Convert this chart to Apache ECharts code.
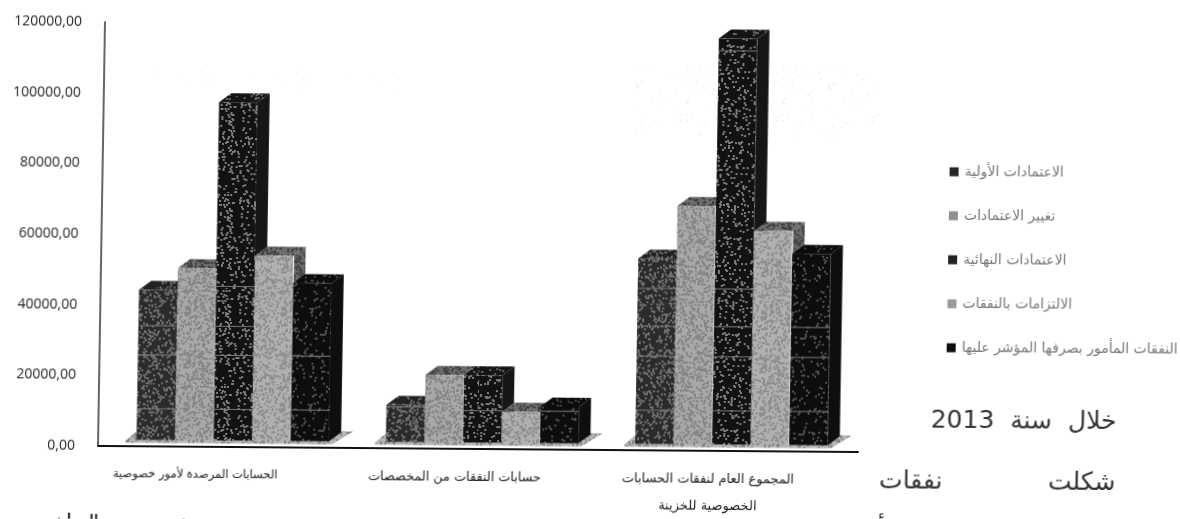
<!DOCTYPE html>
<html><head><meta charset="utf-8">
<script src="https://cdn.jsdelivr.net/npm/echarts@6/dist/echarts.min.js"></script>
<style>
html,body{margin:0;padding:0;background:#fff;overflow:hidden}
#c{width:1180px;height:519px;transform-origin:100px 446px;transform:matrix(1,0.008,-0.0165,1,-2,0)}
</style></head><body><div id="c"></div>
<script>
const categories = ['الحسابات المرصدة لأمور خصوصية','حسابات النفقات من المخصصات','المجموع العام لنفقات الحسابات\nالخصوصية للخزينة'];
const seriesNames = ['الاعتمادات الأولية','تغيير الاعتمادات','الاعتمادات النهائية','الالتزامات بالنفقات','النفقات المأمور بصرفها المؤشر عليها'];
const initialCredits = [42450, 10500, 52400];
const creditChanges = [48700, 19000, 67400];
const finalCredits = [95700, 19000, 114900];
const commitments = [52400, 8800, 60600];
const authorizedSpending = [44700, 10300, 54100];
const yTicks = [0,20000,40000,60000,80000,100000,120000];
// faint horizontal bands visible across the dark bars: one list per series, per category
const bandsInitial = [[8800,24050,32300],[9900],[9500,24800,33300,44000]];
const bandsFinal = [[8800,24050,32300,43600],[9000],[9500,24800,33300,44000,111400]];
const bandsSpending = [[8800,24050],[9000],[9500,24800,33300]];
const noBands = [[],[],[]];
const bodyLines = ['خلال\u00A0\u00A0سنة\u00A0\u00A02013','شكلت','نفقات','خصوصية" بلغت','أ'];

function noiseTex(bg, fg, density, size){
  const cv=document.createElement('canvas');cv.width=cv.height=96;
  const x=cv.getContext('2d');x.fillStyle=bg;x.fillRect(0,0,96,96);
  let s=12345+density*1000|0;
  const r=()=>{s=(s*1103515245+12345)&0x7fffffff;return s/0x7fffffff;};
  x.fillStyle=fg;
  const n=96*96*density;
  for(let i=0;i<n;i++){x.fillRect(r()*96|0,r()*96|0,size,size);}
  return {image:cv,repeat:'repeat'};
}
const looks=[
 {front:noiseTex('#2b2b2b','#6f6f6f',.09,2),top:noiseTex('#222','#666',.07,2),side:'#333',edge:null},
 {front:noiseTex('#a8a8a8','#858585',.12,2),top:noiseTex('#6b6b6b','#404040',.12,2),side:'#707070',edge:'#e4e4e4'},
 {front:noiseTex('#121212','#7d7d7d',.05,2),top:noiseTex('#151515','#666',.04,2),side:'#161616',edge:null},
 {front:noiseTex('#b0b0b0','#8e8e8e',.12,2),top:noiseTex('#6e6e6e','#404040',.12,2),side:noiseTex('#6a6a6a','#444',.12,2),edge:'#ececec'},
 {front:noiseTex('#0d0d0d','#505050',.03,2),top:noiseTex('#0c0c0c','#444',.03,2),side:'#0e0e0e',edge:null}
];
const nudges=[8,4,0];
const barW=38.5, dx=12, dy=9, lift=6.5;
function barRender(k,bands){
  return function(params,api){
    const cat=api.value(0), v=api.value(1);
    const b=api.coord([cat,0]), t=api.coord([cat,v]);
    const l=b[0]+nudges[cat]+(k-2.5)*barW, r=l+barW, by=b[1]-lift, ty=t[1]-lift;
    const L=looks[k];
    const ch=[
     {type:'polygon',shape:{points:[[r,ty],[r+dx,ty-dy],[r+dx,by-dy],[r,by]]},style:{fill:L.side}},
     {type:'polygon',shape:{points:[[l,ty],[l+dx,ty-dy],[r+dx,ty-dy],[r,ty]]},style:{fill:L.top}},
     {type:'rect',shape:{x:l,y:ty,width:barW,height:by-ty},style:{fill:L.front}}
    ];
    bands[cat].forEach(g=>{
      const y=api.coord([cat,g])[1]-lift;
      ch.push({type:'line',shape:{x1:l,y1:y,x2:r,y2:y},style:{stroke:'#7c7c7c',lineWidth:1}});
    });
    if(L.edge){ch.push({type:'line',shape:{x1:r,y1:ty,x2:r,y2:by},style:{stroke:L.edge,lineWidth:1.2}});}
    return {type:'group',children:ch};
  };
}
function floorRender(params,api){
  const cat=api.value(0);
  const b=api.coord([cat,0]);
  const l=b[0]+nudges[cat]-2.5*barW, r=l+5*barW, by=b[1]-lift;
  return {type:'polygon',shape:{points:[[l-11,by+1],[l+4,by-12],[r+24,by-10],[r+3,by+3],[l-11,by+3]]},style:{fill:noiseTex('#b5b5b5','#888',.12,2)}};
}
const valueLists=[initialCredits,creditChanges,finalCredits,commitments,authorizedSpending];
const bandLists=[bandsInitial,noBands,bandsFinal,noBands,bandsSpending];
const legendColors=['#262626','#8f8f8f','#222222','#9a9a9a','#0d0d0d'];
const arabic='"DejaVu Sans"';
const series=[{type:'custom',name:'floor',silent:true,clip:false,encode:{x:0,y:1},data:categories.map((c,i)=>[i,0]),renderItem:floorRender,z:1}]
 .concat(seriesNames.map((n,k)=>({type:'custom',name:n,clip:false,encode:{x:0,y:1},z:2+k,
   itemStyle:{color:legendColors[k]},
   data:valueLists[k].map((v,i)=>[i,v]),renderItem:barRender(k,bandLists[k])})));
const catStyle={lineHeight:27,color:'#222',fontFamily:arabic};
const richCat={g0:Object.assign({padding:[0,58,0,0],fontSize:11.5},catStyle),
               g1:Object.assign({padding:[0,46,0,0],fontSize:12.8},catStyle),
               g2:Object.assign({padding:[0,46,0,0],fontSize:13},catStyle)};
const chart=echarts.init(document.getElementById('c'),null,{renderer:'canvas'});
chart.setOption({
 animation:false,backgroundColor:'#fff',
 grid:{left:100,top:22,width:760,height:424,containLabel:false},
 xAxis:{type:'category',data:categories,axisTick:{show:false},
   axisLine:{lineStyle:{color:'#111',width:2}},
   axisLabel:{interval:0,margin:15,formatter:(v,i)=>v.split('\n').map(s=>'{g'+i+'|'+s+'}').join('\n'),rich:richCat}},
 yAxis:{type:'value',min:0,max:120000,interval:20000,splitLine:{show:false},axisTick:{show:false},
   axisLine:{show:true,lineStyle:{color:'#333',width:1.5}},
   axisLabel:{margin:23,fontFamily:'"Open Sans"',fontSize:14,color:'#222',formatter:v=>v.toFixed(2).replace('.',',')}},
 legend:{orient:'vertical',left:942,top:153,itemWidth:9,itemHeight:9,itemGap:30,icon:'rect',align:'left',
   data:seriesNames,textStyle:{fontFamily:arabic,fontSize:14,color:'#777',padding:[0,0,0,1]}},
 graphic:[
  {type:'rect',silent:true,shape:{x:630,y:58,width:245,height:75},style:{fill:noiseTex('#fff','#dcdcdc',.008,1)}},
  {type:'rect',silent:true,shape:{x:115,y:58,width:280,height:30},style:{fill:noiseTex('#fff','#e2e2e2',.004,1)}},
  {type:'text',silent:true,style:{text:bodyLines[0],x:1118,y:414,align:'right',verticalAlign:'middle',font:'25px '+arabic,fill:'#333'}},
  {type:'text',silent:true,style:{text:bodyLines[1],x:1118,y:475,align:'right',verticalAlign:'middle',font:'25px '+arabic,fill:'#333'}},
  {type:'text',silent:true,style:{text:bodyLines[2],x:945,y:475,align:'right',verticalAlign:'middle',font:'25px '+arabic,fill:'#333'}},
  {type:'text',silent:true,style:{text:bodyLines[3],x:195,y:525,align:'right',verticalAlign:'middle',font:'25px '+arabic,fill:'#333'}},
  {type:'text',silent:true,style:{text:bodyLines[4],x:888,y:525,align:'right',verticalAlign:'middle',font:'25px '+arabic,fill:'#333'}}
 ],
 series
});
</script></body></html>
